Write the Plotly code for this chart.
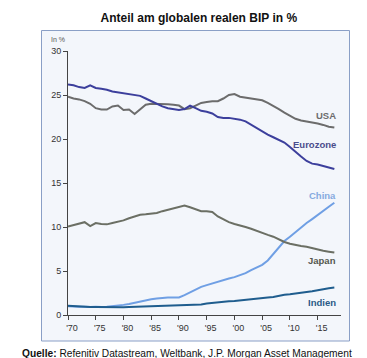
import plotly.graph_objects as go

years = list(range(1970, 2019))

usa = [24.8, 24.6, 24.5, 24.3, 24.0, 23.5, 23.35, 23.35, 23.7, 23.8,
       23.3, 23.35, 22.85, 23.4, 23.9, 24.0, 24.0, 24.0, 23.95, 23.9,
       23.8, 23.4, 23.5, 23.8, 24.1, 24.2, 24.3, 24.3, 24.6, 25.0,
       25.1, 24.8, 24.7, 24.6, 24.5, 24.4, 24.1, 23.7, 23.4, 23.0,
       22.6, 22.3, 22.1, 22.0, 21.9, 21.75, 21.6, 21.4, 21.3]

eurozone = [26.2, 26.1, 25.9, 25.8, 26.1, 25.8, 25.7, 25.6, 25.4, 25.3,
            25.2, 25.1, 24.95, 24.9, 24.6, 24.3, 24.0, 23.7, 23.5, 23.4,
            23.3, 23.4, 23.8, 23.5, 23.2, 23.1, 22.9, 22.5, 22.4, 22.4,
            22.3, 22.2, 22.0, 21.6, 21.2, 20.8, 20.5, 20.2, 19.9, 19.6,
            19.1, 18.5, 18.0, 17.5, 17.2, 17.1, 16.95, 16.8, 16.6]

china = [1.0, 0.95, 0.95, 0.95, 0.9, 0.95, 0.9, 0.95, 1.0, 1.05,
         1.15, 1.25, 1.4, 1.5, 1.65, 1.78, 1.88, 1.95, 2.0, 1.98,
         2.0, 2.25, 2.55, 2.9, 3.2, 3.4, 3.6, 3.8, 3.95, 4.15,
         4.3, 4.5, 4.75, 5.1, 5.4, 5.7, 6.2, 6.9, 7.7, 8.4,
         8.9, 9.45, 9.95, 10.45, 10.9, 11.4, 11.9, 12.3, 12.75]

japan = [10.05, 10.2, 10.4, 10.55, 10.1, 10.45, 10.35, 10.3, 10.45, 10.6,
         10.75, 11.0, 11.2, 11.4, 11.45, 11.55, 11.6, 11.8, 11.95, 12.1,
         12.3, 12.45, 12.25, 12.0, 11.8, 11.8, 11.7, 11.2, 10.9, 10.55,
         10.35, 10.2, 10.0, 9.8, 9.55, 9.35, 9.1, 8.9, 8.6, 8.3,
         8.1, 7.95, 7.85, 7.75, 7.6, 7.4, 7.3, 7.2, 7.1]

indien = [1.05, 1.0, 0.95, 0.9, 0.9, 0.92, 0.9, 0.9, 0.9, 0.85,
          0.88, 0.9, 0.92, 0.93, 0.95, 0.98, 1.0, 1.02, 1.05, 1.07,
          1.08, 1.08, 1.1, 1.15, 1.2, 1.3, 1.38, 1.42, 1.48, 1.55,
          1.6, 1.68, 1.72, 1.8, 1.88, 1.95, 2.0, 2.05, 2.2, 2.3,
          2.35, 2.42, 2.5, 2.6, 2.7, 2.82, 2.95, 3.05, 3.12]

x_tickvals = [1970, 1975, 1980, 1985, 1990, 1995, 2000, 2005, 2010, 2015]
x_ticktext = ["'70", "'75", "'80", "'85", "'90", "'95", "'00", "'05", "'10", "'15"]
y_tickvals = [0, 5, 10, 15, 20, 25, 30]

series = [
    ("China", china, "#6f9fe4", "#86aadf", 13.6),
    ("Indien", indien, "#1f5d8e", "#2a5a86", 1.45),
    ("Japan", japan, "#6b6f64", "#55584f", 6.2),
    ("USA", usa, "#6c6c6c", "#6c6c6c", 22.7),
    ("Eurozone", eurozone, "#3c3f9c", "#4a4d8c", 19.4),
]

# plot area in pixels: x 60..333, y 43..307
PL, PR, PT, PB = 60, 333, 43, 307
PW, PH = PR - PL, PB - PT


def px_x(p):
    return (p - PL) / PW


def px_y(p):
    return (PB - p) / PH


fig = go.Figure()
for name, vals, col, lcol, ly in series:
    fig.add_trace(go.Scatter(x=years, y=vals, mode="lines", name=name,
                             line=dict(color=col, width=2), showlegend=False))
    fig.add_annotation(x=2018.6, y=ly, xref="x", yref="y", text="<b>%s</b>" % name,
                       showarrow=False, xanchor="right", yanchor="middle",
                       font=dict(family="Arial, Liberation Sans", size=9.5, color=lcol))

# panel box
fig.add_shape(type="rect", xref="paper", yref="paper",
              x0=px_x(33.5), x1=px_x(341.5), y0=px_y(333), y1=px_y(22.5),
              fillcolor="#f3f6fb", line=dict(color="#8a9fc6", width=1), layer="below")

fig.add_annotation(x=px_x(41), y=px_y(31), xref="paper", yref="paper", text="In %",
                   showarrow=False, xanchor="left", yanchor="middle",
                   font=dict(family="Arial, Liberation Sans", size=7, color="#555555"))

fig.add_annotation(x=px_x(12), y=px_y(345), xref="paper", yref="paper",
                   text="<b>Quelle:</b> Refenitiv Datastream, Weltbank, J.P. Morgan Asset Management",
                   showarrow=False, xanchor="left", yanchor="middle",
                   font=dict(family="Arial, Liberation Sans", size=10.2, color="#111111"))

fig.update_layout(
    width=367, height=358,
    margin=dict(l=PL, r=367 - PR, t=PT, b=358 - PB),
    paper_bgcolor="white", plot_bgcolor="rgba(0,0,0,0)",
    title=dict(text="<b>Anteil am globalen realen BIP in %</b>", x=0.52, xanchor="center",
               y=0.972, yanchor="middle",
               font=dict(family="Arial, Liberation Sans", size=12, color="#111111")),
    font=dict(family="Arial, Liberation Sans", size=9, color="#333333"),
)
fig.update_xaxes(range=[1970, 2019.2], tickvals=x_tickvals, ticktext=x_ticktext,
                 showgrid=False, zeroline=False, showline=True, linecolor="#444444",
                 linewidth=1, ticks="outside", ticklen=4, tickcolor="#444444",
                 ticklabelshift=4, tickfont=dict(size=9, color="#333333"))
fig.update_yaxes(range=[0, 30], tickvals=y_tickvals, showgrid=False, zeroline=False,
                 showline=True, linecolor="#444444", linewidth=1, ticks="outside",
                 ticklen=4, tickcolor="#444444", tickfont=dict(size=9, color="#333333"))

fig.write_html("out.html")
